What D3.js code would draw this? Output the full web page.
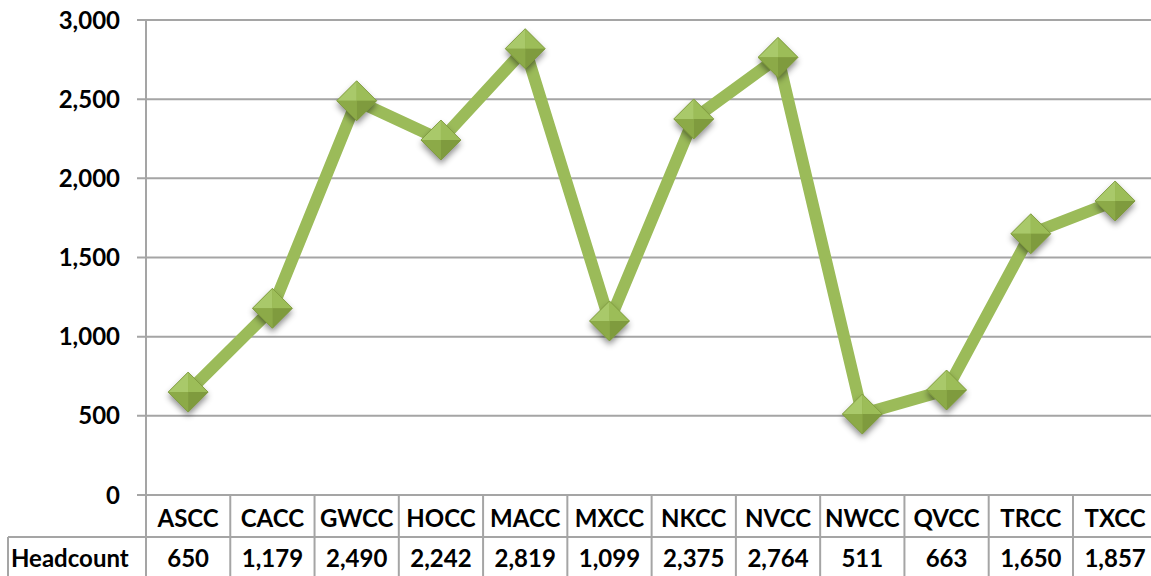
<!DOCTYPE html>
<html><head><meta charset="utf-8">
<script src="https://cdn.jsdelivr.net/npm/d3@7"></script>
<style>
html,body{margin:0;padding:0;background:#fff;}
svg text{font-family:Lato,"Open Sans",sans-serif;font-weight:700;fill:#000;}
</style></head>
<body>
<svg id="c" width="1151" height="576"></svg>
<script>
const categories = ["ASCC","CACC","GWCC","HOCC","MACC","MXCC","NKCC","NVCC","NWCC","QVCC","TRCC","TXCC"];
const headcount = [650,1179,2490,2242,2819,1099,2375,2764,511,663,1650,1857];
const yTicks = [0,500,1000,1500,2000,2500,3000];
const seriesName = "Headcount";

(function(){
const W = 1151, H = 576;
const plotLeft = 146, colW = 84.27, plotTop = 20, zeroY = 495;
const svg = d3.select("#c");
const defs = svg.append("defs");
const f = defs.append("filter").attr("id","sh").attr("x","-50%").attr("y","-50%").attr("width","200%").attr("height","200%");
f.append("feDropShadow").attr("dx",0).attr("dy",4).attr("stdDeviation",3).attr("flood-color","#000").attr("flood-opacity",0.45);

const x = d3.scaleBand().domain(categories).range([plotLeft, plotLeft + colW*categories.length]);
const y = d3.scaleLinear().domain([0,3000]).range([zeroY, plotTop]);
const fmt = d3.format(",");
const grid = "#a5a5a5";
const fs = "24px";

svg.append("g").selectAll("line").data(yTicks).join("line")
  .attr("x1", plotLeft-9).attr("x2", W).attr("y1", d=>y(d)).attr("y2", d=>y(d))
  .attr("stroke", grid).attr("stroke-width", 2);

svg.append("g").selectAll("text").data(yTicks).join("text")
  .attr("x", 120).attr("y", d=>y(d)).attr("dy","0.36em").attr("text-anchor","end")
  .style("font-size",fs).text(d=>fmt(d));

svg.append("line").attr("x1",plotLeft).attr("x2",plotLeft).attr("y1",plotTop).attr("y2",H)
  .attr("stroke",grid).attr("stroke-width",2);

const rowSplit = 537;
svg.append("line").attr("x1",8).attr("x2",W).attr("y1",rowSplit).attr("y2",rowSplit).attr("stroke",grid).attr("stroke-width",2);
svg.append("line").attr("x1",8).attr("x2",8).attr("y1",rowSplit).attr("y2",H).attr("stroke",grid).attr("stroke-width",2);
svg.append("g").selectAll("line").data(categories.slice(1)).join("line")
  .attr("x1", d=>x(d)).attr("x2", d=>x(d)).attr("y1", zeroY).attr("y2", H)
  .attr("stroke",grid).attr("stroke-width",2);
svg.append("g").selectAll("text").data(categories).join("text")
  .attr("x", d=>x(d)+x.bandwidth()/2).attr("y", 518).attr("dy","0.36em").attr("text-anchor","middle")
  .style("font-size",fs).text(d=>d);
svg.append("g").selectAll("text").data(headcount).join("text")
  .attr("x", (d,i)=>x(categories[i])+x.bandwidth()/2).attr("y", 558).attr("dy","0.36em").attr("text-anchor","middle")
  .style("font-size",fs).text(d=>fmt(d));
svg.append("text").attr("x",11).attr("y",558).attr("dy","0.36em").style("font-size",fs).text(seriesName);

const pts = headcount.map((v,i)=>[x(categories[i])+x.bandwidth()/2, y(v)]);
svg.append("path").attr("d", d3.line()(pts)).attr("fill","none")
  .attr("stroke","#9bbb59").attr("stroke-width",12).attr("stroke-linejoin","miter");

const r = 20;
const faces = [
  {d:`M0,0L${-r},0L0,${-r}Z`, c:"#a9c96a"},
  {d:`M0,0L0,${-r}L${r},0Z`, c:"#9cbd58"},
  {d:`M0,0L${r},0L0,${r}Z`, c:"#7f9b3e"},
  {d:`M0,0L0,${r}L${-r},0Z`, c:"#8caa48"}
];
const m = svg.append("g").selectAll("g").data(pts).join("g")
  .attr("transform", d=>`translate(${d[0]},${d[1]})`);
m.append("path").attr("d",`M${-r},0L0,${-r}L${r},0L0,${r}Z`).attr("fill","#8fad4b").attr("filter","url(#sh)");
faces.forEach(fc=>{ m.append("path").attr("d",fc.d).attr("fill",fc.c); });
m.append("path").attr("d",`M${-r},0L0,${-r}L${r},0L0,${r}Z`).attr("fill","none").attr("stroke","#7a953a").attr("stroke-width",0.8);
})();
</script>
</body></html>
